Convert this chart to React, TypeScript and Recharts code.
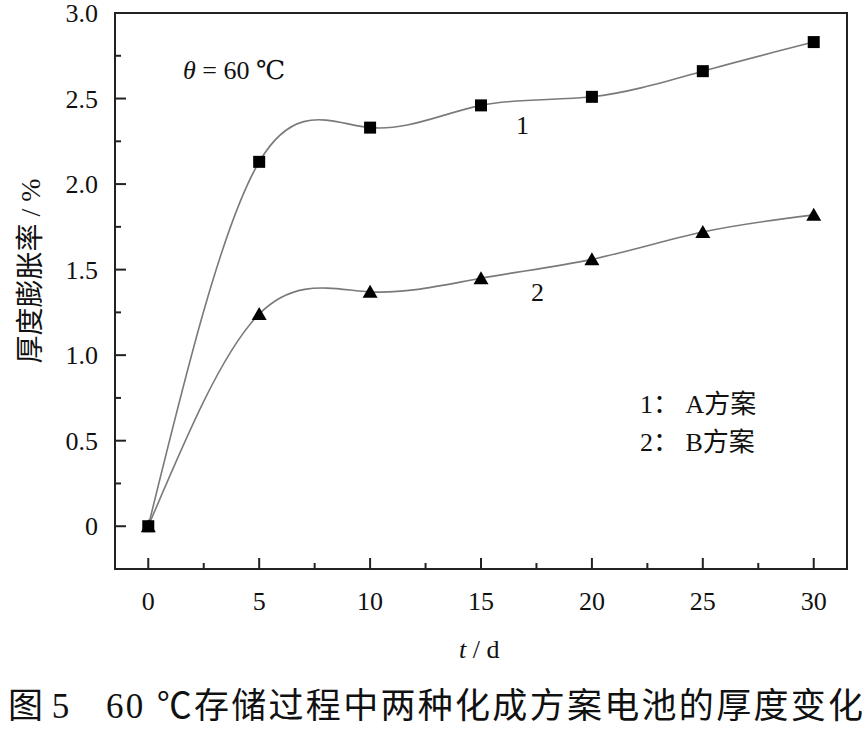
import { LineChart, Line, XAxis, YAxis, ReferenceArea } from 'recharts'

// storage time, days
const days = [0, 5, 10, 15, 20, 25, 30]
// thickness swelling rate, %
const schemeA = [0, 2.13, 2.33, 2.46, 2.51, 2.66, 2.83]
const schemeB = [0, 1.24, 1.37, 1.45, 1.56, 1.72, 1.82]

const xTicks = [0, 2.5, 5, 7.5, 10, 12.5, 15, 17.5, 20, 22.5, 25, 27.5, 30]
const yTicks = [0, 0.25, 0.5, 0.75, 1, 1.25, 1.5, 1.75, 2, 2.25, 2.5, 2.75, 3]

const SERIF = '"Liberation Serif", "DejaVu Serif", serif'
const CJK = '"Liberation Serif", "Noto Sans CJK SC", serif'
const AXIS = '#222'
const CURVE = '#7a7a7a'

const data = days.map((d, i) => ({ day: d, a: schemeA[i], b: schemeB[i] }))

function XTick(props: any) {
  const { x, y, payload } = props
  const v = payload.value as number
  const major = v % 5 === 0
  return (
    <g>
      <line x1={x} x2={x} y1={y} y2={y - (major ? 11 : 6)} stroke={AXIS} strokeWidth={2} />
      {major && (
        <text x={x} y={y + 41} textAnchor="middle" fontFamily={SERIF} fontSize={26} fill="#111">
          {v}
        </text>
      )}
    </g>
  )
}

function YTick(props: any) {
  const { x, y, payload } = props
  const v = payload.value as number
  const major = v % 0.5 === 0
  return (
    <g>
      <line x1={x} x2={x + (major ? 11 : 6)} y1={y} y2={y} stroke={AXIS} strokeWidth={2} />
      {major && (
        <text x={x - 17} y={y + 9} textAnchor="end" fontFamily={SERIF} fontSize={26} fill="#111">
          {v === 0 ? '0' : v.toFixed(1)}
        </text>
      )}
    </g>
  )
}

function SquareDot(props: any) {
  const { cx, cy } = props
  if (cx == null || cy == null) return null
  return <rect x={cx - 6} y={cy - 6} width={12} height={12} fill="#000" />
}

function TriangleDot(props: any) {
  const { cx, cy } = props
  if (cx == null || cy == null) return null
  return <polygon points={`${cx},${cy - 7} ${cx + 7.5},${cy + 6} ${cx - 7.5},${cy + 6}`} fill="#000" />
}

const textBase: React.CSSProperties = {
  position: 'absolute',
  fontFamily: CJK,
  fontSize: 26,
  color: '#111',
  lineHeight: 1,
  whiteSpace: 'nowrap',
}

export default function App() {
  return (
    <div style={{ position: 'absolute', left: 0, top: 0, width: 864, height: 734, background: '#fff' }}>
      <div style={{ position: 'absolute', left: 0, top: 0 }}>
        <LineChart width={864} height={660} data={data} margin={{ top: 13, right: 17, left: 55, bottom: 31 }}>
          <XAxis
            dataKey="day"
            type="number"
            domain={[-1.5, 31.5]}
            ticks={xTicks}
            interval={0}
            tickSize={0}
            tickMargin={0}
            tick={(p: any) => <XTick {...p} />}
            axisLine={{ stroke: AXIS, strokeWidth: 2 }}
            tickLine={false}
            height={60}
          />
          <YAxis
            type="number"
            domain={[-0.25, 3]}
            ticks={yTicks}
            interval={0}
            tickSize={0}
            tickMargin={0}
            tick={(p: any) => <YTick {...p} />}
            axisLine={{ stroke: AXIS, strokeWidth: 2 }}
            tickLine={false}
            width={60}
          />
          <ReferenceArea x1={-1.5} x2={31.5} y1={-0.25} y2={3} fill="none" stroke={AXIS} strokeWidth={2} ifOverflow="visible" />
          <Line type="natural" dataKey="a" stroke={CURVE} strokeWidth={1.6} dot={(p: any) => <SquareDot key={`a${p.index}`} {...p} />} isAnimationActive={false} />
          <Line type="natural" dataKey="b" stroke={CURVE} strokeWidth={1.6} dot={(p: any) => <TriangleDot key={`b${p.index}`} {...p} />} isAnimationActive={false} />
        </LineChart>
      </div>

      <div style={{ ...textBase, left: 183, top: 58, fontFamily: SERIF }}>
        <i>θ</i> = 60 ℃
      </div>
      <div style={{ ...textBase, left: 516, top: 113, fontFamily: SERIF }}>1</div>
      <div style={{ ...textBase, left: 531, top: 280, fontFamily: SERIF }}>2</div>
      <div style={{ ...textBase, left: 640, top: 392 }}>1：&nbsp;A方案</div>
      <div style={{ ...textBase, left: 640, top: 430 }}>2：&nbsp;B方案</div>

      <div style={{ ...textBase, left: 459, top: 637, fontFamily: SERIF }}>
        <i>t</i> / d
      </div>
      <div
        style={{
          ...textBase,
          left: 31,
          top: 271,
          fontSize: 28,
          transform: 'translate(-50%, -50%) rotate(-90deg)',
        }}
      >
        厚度膨胀率 / %
      </div>

      <div style={{ ...textBase, left: 8, top: 689, fontSize: 35 }}>图 5</div>
      <div style={{ ...textBase, left: 106, top: 689, fontSize: 35, letterSpacing: 2.3 }}>
        60 ℃存储过程中两种化成方案电池的厚度变化
      </div>
    </div>
  )
}
